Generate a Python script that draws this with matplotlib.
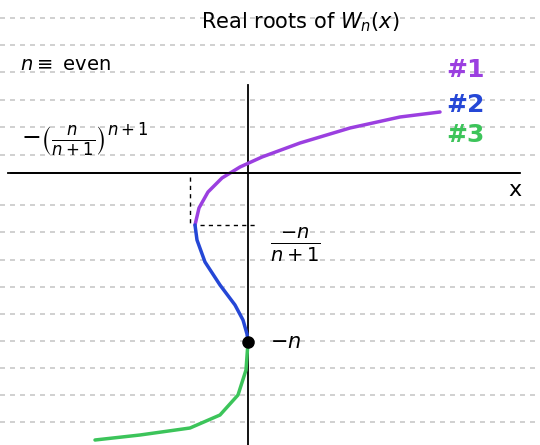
import matplotlib
matplotlib.use("Agg")
import matplotlib.pyplot as plt

purple_x = [195, 199, 208, 222, 240, 262, 300, 350, 400, 440]
purple_y = [225, 208, 192, 178, 167, 157, 143, 128, 117, 112]
blue_x = [195, 197, 205, 220, 235, 243, 247, 248]
blue_y = [225, 240, 262, 285, 305, 320, 334, 342]
green_x = [248, 246, 238, 220, 190, 140, 95]
green_y = [342, 370, 395, 415, 428, 435, 440]
paper_lines = [18, 45, 72, 100, 127, 155, 205, 232, 260, 287, 314, 341, 368, 395, 422]

fig = plt.figure(figsize=(5.4, 4.45), dpi=100)
ax = fig.add_axes([0, 0, 1, 1])
ax.set_xlim(0, 540)
ax.set_ylim(445, 0)
ax.axis("off")

for y in paper_lines:
    ax.plot([0, 540], [y, y], color="#c8c8c8", lw=1.2, ls=(0, (3, 3)), zorder=0)

sk = dict(sketch_params=(1, 60, 2))
ax.annotate("", xy=(522, 173), xytext=(8, 173),
            arrowprops=dict(arrowstyle="-", color="black", lw=1.3))
ax.plot([8, 520], [173, 173], color="black", lw=1.3)
ax.plot([248, 248], [85, 445], color="black", lw=1.3)
ax.plot([190, 190], [177, 225], color="black", lw=1, ls=(0, (3, 3)))
ax.plot([200, 258], [225, 225], color="black", lw=1, ls=(0, (3, 3)))

ax.plot(purple_x, purple_y, color="#9b3fe0", lw=2.5, solid_capstyle="round")
ax.plot(blue_x, blue_y, color="#2547d6", lw=2.5, solid_capstyle="round")
ax.plot(green_x, green_y, color="#3cc45a", lw=2.5, solid_capstyle="round")
ax.plot([248], [342], "o", color="black", ms=8)

ax.text(300, 22, r"Real roots of $W_n(x)$", fontsize=15, ha="center", va="center")
ax.text(65, 65, r"$n\equiv$ even", fontsize=14, ha="center", va="center")
ax.text(465, 70, "#1", color="#9b3fe0", fontsize=18, weight="bold", ha="center", va="center")
ax.text(465, 105, "#2", color="#2547d6", fontsize=18, weight="bold", ha="center", va="center")
ax.text(465, 135, "#3", color="#3cc45a", fontsize=18, weight="bold", ha="center", va="center")
ax.text(515, 190, "x", fontsize=16, ha="center", va="center")
ax.text(270, 342, r"$-n$", fontsize=15, ha="left", va="center")
ax.text(295, 245, r"$\frac{-n}{n+1}$", fontsize=20, ha="center", va="center")
ax.text(85, 140, r"$-\left(\frac{n}{n+1}\right)^{n+1}$", fontsize=17, ha="center", va="center")

fig.savefig("out.png", dpi=100)
